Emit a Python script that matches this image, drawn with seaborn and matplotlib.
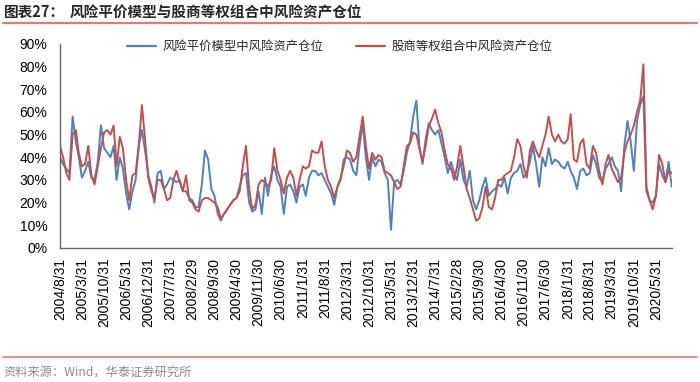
import matplotlib
matplotlib.use('Agg')
import matplotlib.pyplot as plt
from matplotlib.lines import Line2D
from matplotlib.ticker import PercentFormatter
import seaborn as sns
import pandas as pd

# month-end dates, 2004/8 .. 2020/10
months = pd.date_range('2004-08-31', periods=195, freq='ME')

# risk-asset weight in risk parity model (%)
risk_parity = [
    40, 37, 35, 33, 58, 47, 40, 31, 34, 38,
    31, 30, 38, 54, 44, 42, 40, 45, 30, 40,
    35, 24, 17, 25, 30, 45, 52, 43, 32, 27,
    20, 33, 34, 26, 28, 31, 30, 29, 30, 25,
    25, 22, 21, 18, 18, 28, 43, 39, 26, 23,
    15, 12, 15, 17, 19, 21, 22, 27, 32, 33,
    20, 16, 17, 25, 15, 31, 23, 32, 36, 30,
    27, 15, 27, 28, 25, 20, 27, 28, 23, 31,
    34, 34, 32, 33, 30, 27, 24, 19, 27, 30,
    39, 40, 39, 34, 32, 45, 55, 40, 30, 40,
    36, 39, 38, 33, 30, 8, 29, 30, 28, 34,
    42, 47, 58, 65, 45, 37, 48, 55, 52, 50,
    52, 46, 40, 33, 38, 33, 30, 39, 30, 27,
    34, 21, 17, 21, 27, 31, 23, 25, 26, 28,
    27, 31, 24, 31, 33, 34, 37, 31, 33, 38,
    45, 37, 27, 40, 36, 44, 37, 39, 38, 36,
    35, 38, 34, 31, 26, 34, 35, 32, 33, 41,
    37, 31, 29, 35, 37, 40, 36, 34, 25, 45,
    56, 47, 34, 56, 63, 67, 25, 21, 20, 23,
    37, 32, 29, 38, 27,
]

# risk-asset weight in stock/commodity equal-weight portfolio (%)
equal_weight = [
    45, 40, 33, 30, 50, 52, 42, 36, 37, 45,
    32, 28, 36, 44, 51, 52, 50, 54, 36, 49,
    44, 30, 21, 32, 33, 45, 63, 48, 31, 25,
    22, 30, 30, 26, 21, 22, 30, 34, 29, 25,
    32, 21, 20, 17, 16, 21, 22, 22, 21, 20,
    18, 13, 15, 17, 19, 21, 22, 25, 36, 45,
    26, 17, 19, 28, 30, 29, 27, 30, 44, 34,
    30, 24, 31, 34, 31, 23, 30, 36, 35, 36,
    43, 42, 42, 47, 36, 30, 27, 22, 27, 31,
    36, 43, 42, 38, 40, 49, 58, 45, 35, 42,
    39, 41, 40, 34, 33, 32, 29, 26, 27, 36,
    45, 46, 51, 50, 44, 38, 45, 54, 57, 61,
    55, 51, 43, 37, 35, 30, 36, 45, 36, 26,
    22, 17, 12, 13, 18, 27, 18, 17, 22, 30,
    30, 32, 33, 34, 40, 48, 45, 36, 31, 43,
    47, 43, 40, 45, 50, 58, 50, 47, 50, 47,
    46, 48, 59, 39, 38, 46, 48, 37, 35, 45,
    42, 34, 28, 37, 41, 35, 32, 29, 31, 42,
    47, 50, 54, 60, 65, 81, 27, 21, 17, 23,
    41, 37, 29, 34, 33,
]

names = ['风险平价模型中风险资产仓位', '股商等权组合中风险资产仓位']
colors = ['#4F81BD', '#C0504D']

df = pd.concat([
    pd.DataFrame({'date': months, 'value': risk_parity, 'series': names[0]}),
    pd.DataFrame({'date': months, 'value': equal_weight, 'series': names[1]}),
])

sns.set_style('white')
plt.rcParams['font.family'] = ['Liberation Sans', 'Noto Sans CJK SC']
cjk = ['Noto Sans CJK SC', 'DejaVu Sans']

fig = plt.figure(figsize=(7, 3.82), dpi=100)
ax = fig.add_axes([0.0857, 0.351, 0.874, 0.534])

sns.lineplot(data=df, x='date', y='value', hue='series', hue_order=names,
             palette=colors, linewidth=1.4, ax=ax)

ax.set_xlim(months[0], months[-1])
ax.set_ylim(0, 90)
ax.set_yticks(range(0, 91, 10))
ax.yaxis.set_major_formatter(PercentFormatter(decimals=0))

tick_dates = months[::7]
ax.set_xticks(tick_dates)
ax.set_xticklabels([f'{d.year}/{d.month}/{d.day}' for d in tick_dates], rotation=90)
ax.set_xlabel('')
ax.set_ylabel('')

for side in ['top', 'right']:
    ax.spines[side].set_visible(False)
for side in ['left', 'bottom']:
    ax.spines[side].set_color('#666666')
    ax.spines[side].set_linewidth(1.0)
ax.tick_params(axis='both', direction='out', length=4, width=1, color='#666666',
               labelsize=10, labelcolor='black')
ax.tick_params(axis='y', pad=5)
ax.tick_params(axis='x', pad=3)

leg = ax.legend(loc='center', bbox_to_anchor=(0.457, 0.988), ncol=2, frameon=False,
                prop={'family': cjk, 'size': 8.9}, handlelength=2.4,
                handletextpad=0.5, columnspacing=2.6)
for h in leg.get_lines():
    h.set_linewidth(1.6)

# header and footer
fig.text(0.005, 0.968, '图表27：', family=cjk, fontsize=10.5, fontweight='bold', va='center')
fig.text(0.1, 0.968, '风险平价模型与股商等权组合中风险资产仓位', family=cjk,
         fontsize=10.5, fontweight='bold', va='center')
fig.add_artist(Line2D([0.004, 0.996], [0.941, 0.941], color='#E8786E', linewidth=1.6))
fig.add_artist(Line2D([0.004, 0.996], [0.066, 0.066], color='#E8786E', linewidth=1.2))
fig.text(0.005, 0.026, '资料来源：Wind，华泰证券研究所', family=cjk, fontsize=8.8,
         color='#8C8C8C', va='center')

fig.savefig('out.png', dpi=100)
